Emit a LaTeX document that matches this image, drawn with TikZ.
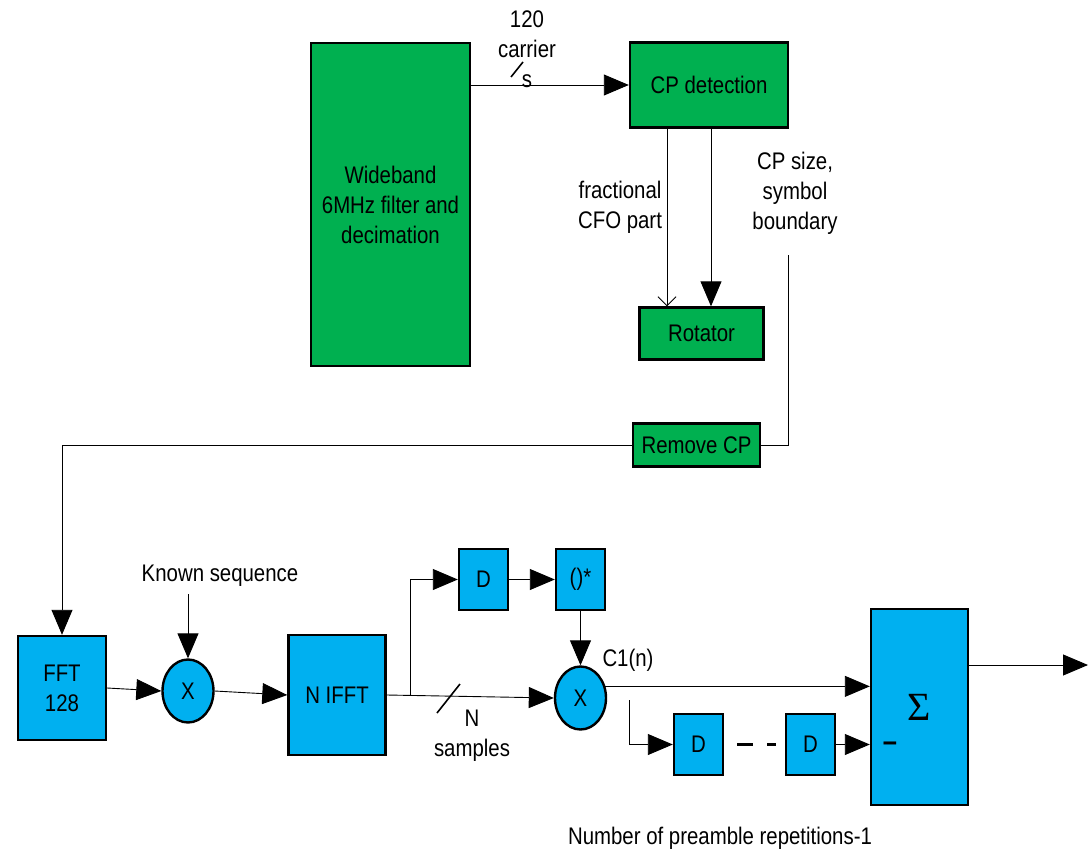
\documentclass[tikz,border=0pt]{standalone}
\usepackage{fontspec}
\setmainfont{Liberation Sans}[FakeStretch=0.85]
\newfontfamily\serifsigma{Liberation Serif}
\usepackage{tikz}
\usetikzlibrary{shapes.geometric, arrows.meta, positioning}
\definecolor{verde}{HTML}{00B050}
\definecolor{azul}{HTML}{00B0F0}
\tikzset{
    box_verde/.style={rectangle, draw=black, fill=verde, line width=2.4pt, inner sep=0pt, align=center, font=\fontsize{24}{30}\selectfont},
    box_azul/.style={rectangle, draw=black, fill=azul, line width=2.4pt, inner sep=0pt, align=center, font=\fontsize{24}{30}\selectfont},
    circulo/.style={ellipse, draw=black, fill=azul, line width=2.4pt, inner sep=0pt, minimum width=51pt, minimum height=63pt, font=\fontsize{24}{30}\selectfont},
    etiqueta/.style={align=center, inner sep=0pt, font=\fontsize{24}{30}\selectfont},
    flecha/.style={draw, line width=0.9pt, -{Triangle[length=25pt, width=21pt]}},
    flecha_abierta/.style={draw, line width=0.9pt, -{Straight Barb[length=9pt, width=18pt]}},
    linea/.style={draw, line width=0.9pt}
}
\begin{document}
\begin{tikzpicture}[x=1pt, y=-1pt]
    \useasboundingbox (0,0) rectangle (1089,853);
    % upper chain
    \node[box_verde, minimum width=159pt, minimum height=323pt] (wideband) at (390.5,204.5) {Wideband\\6MHz filter and\\decimation};
    \node[box_verde, minimum width=158pt, minimum height=85pt] (cpdet) at (709,85) {CP detection};
    \node[box_verde, minimum width=124pt, minimum height=52pt, below=177.6pt of cpdet, xshift=-7.5pt] (rotator) {Rotator};
    \node[box_verde, minimum width=127pt, minimum height=43pt, below=61.6pt of rotator, xshift=-5pt] (removecp) {Remove CP};

    \node[etiqueta] (carriers) at (527,49) {120\\carrier\\s};
    \node[etiqueta] (cfo) at (620,207) {fractional\\CFO part};
    \node[etiqueta] (cpsize) at (795,193) {CP size,\\symbol\\boundary};
    \coordinate (cpsizefin) at (788,255);

    % lower chain
    \node[box_azul, minimum width=88pt, minimum height=104pt] (fft) at (62,688) {FFT\\128};
    \node[circulo] (mult1) at (188,691) {X};
    \node[etiqueta] (known) at (220,576) {Known sequence};
    \coordinate (knownfin) at (188,594);
    \node[box_azul, minimum width=97pt, minimum height=120pt] (nifft) at (337,695) {N IFFT};
    \node[box_azul, minimum width=49pt, minimum height=61pt] (d1) at (483.5,579.5) {D};
    \node[box_azul, minimum width=49pt, minimum height=61pt, right=45.6pt of d1] (conj) {()*};
    \node[circulo] (mult2) at (580.5,698) {X};
    \node[etiqueta] (nsamples) at (472,736) {N\\samples};
    \node[etiqueta] (c1n) at (628,660) {C1(n)};
    \node[box_azul, minimum width=49pt, minimum height=61pt] (d2) at (698.5,744.5) {D};
    \node[box_azul, minimum width=49pt, minimum height=61pt, right=60.6pt of d2] (d3) {D};
    \node[box_azul, minimum width=97pt, minimum height=196pt] (sigma) at (919.5,707) {\serifsigma\fontsize{40}{40}\selectfont Σ};
    \node[etiqueta, font=\fontsize{30}{30}\selectfont\bfseries] (menos) at (890,747) {–};
    \node[etiqueta] (repeticiones) at (720,838) {Number of preamble repetitions-1};
    \coordinate (rama) at ([xshift=24pt]nifft.east);
    \coordinate (rep) at (629,700);
    \coordinate (salida) at (1088,665);

    \draw[flecha] (wideband.east |- cpdet.west) -- (cpdet.west);
    \draw[linea, line width=1.6pt] (511,77) -- (523,62);
    \draw[flecha_abierta] ([xshift=-42pt]cpdet.south) -- ([xshift=-42pt]cpdet.south |- rotator.north);
    \draw[flecha] ([xshift=2pt]cpdet.south) -- ([xshift=2pt]cpdet.south |- rotator.north);
    \draw[linea] (cpsizefin) |- (removecp.east);
    \draw[flecha] (removecp.west) -| (fft.north);
    \draw[flecha] (fft.east) -- (mult1.west);
    \draw[flecha] (knownfin) -- (mult1.north);
    \draw[flecha] (mult1.east) -- (nifft.west);
    \draw[flecha] (nifft.east) -- (mult2.west);
    \draw[linea, line width=1.6pt] (437,713) -- (460,684);
    \draw[flecha] (rama) |- (d1.west);
    \draw[flecha] (d1.east) -- (conj.west);
    \draw[flecha] (conj.south) -- (mult2.north);
    \draw[flecha] (mult2.25) -- (mult2.25 -| sigma.west);
    \draw[flecha] (rep) |- (d2.west);
    \draw[line width=3pt, dash pattern=on 16pt off 14pt on 9pt off 40pt] ([xshift=12.8pt]d2.east) -- ([xshift=-8.8pt]d3.west);
    \draw[flecha] (d3.east) -- (d3.east -| sigma.west);
    \draw[flecha] (sigma.east |- salida) -- (salida);
\end{tikzpicture}
\end{document}
